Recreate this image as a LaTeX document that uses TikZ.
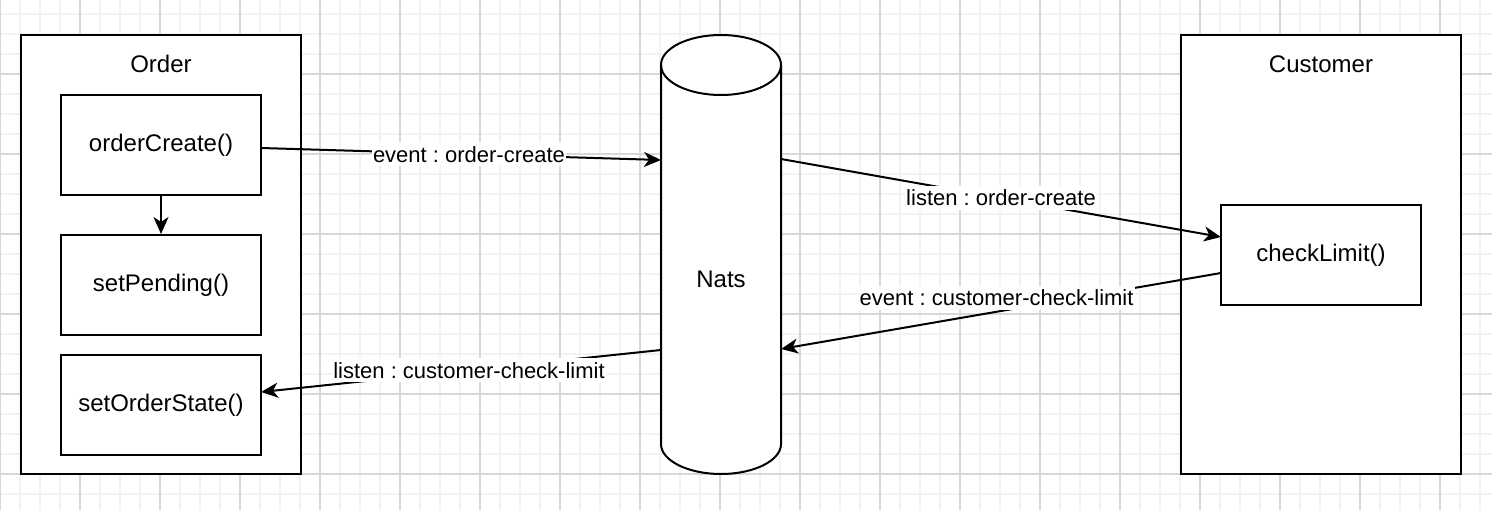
\documentclass[tikz,border=0pt]{standalone}
\usepackage{fontspec}
\setmainfont{Liberation Sans}
\usetikzlibrary{arrows.meta,calc}
\frenchspacing
\begin{document}
\begin{tikzpicture}[x=1pt,y=-1pt,
  box/.style={draw=black,line width=2pt,fill=white,minimum width=200pt,minimum height=100pt,inner sep=0pt,font=\fontsize{24}{29}\selectfont},
  frame/.style={draw=black,line width=2pt,fill=white,minimum width=280pt,minimum height=439pt,inner sep=0pt},
  title/.style={inner sep=0pt,font=\fontsize{24}{29}\selectfont},
  conn/.style={line width=2pt,-{Stealth[length=17pt,width=15pt,inset=5pt]}},
  lbl/.style={fill=white,inner xsep=1pt,inner ysep=4pt,font=\fontsize{22}{26}\selectfont\frenchspacing},
  minorgrid/.style={line width=1.5pt,draw={rgb,255:red,242;green,242;blue,242}},
  majorgrid/.style={line width=1.5pt,draw={rgb,255:red,216;green,216;blue,216}}]
\useasboundingbox (0,0) rectangle (1492,510);
\fill[white] (0,0) rectangle (1492,510);
% grid
\foreach \x in {0,20,...,1480} {\draw[minorgrid] (\x,0) -- (\x,510);}
\foreach \y in {14,34,...,510} {\draw[minorgrid] (0,\y) -- (1492,\y);}
\foreach \x in {0,80,...,1480} {\draw[majorgrid] (\x,0) -- (\x,510);}
\foreach \y in {74,154,...,510} {\draw[majorgrid] (0,\y) -- (1492,\y);}
% frames
\node[frame] (order) at (161,254.5) {};
\node[frame] (customer) at (1321,254.5) {};
\node[title] (ordert) at (161,64) {Order};
\node[title] (custt) at (1321,64) {Customer};
% inner boxes
\node[box] (oc) at (161,145) {orderCreate()};
\node[box] (sp) at (161,285) {setPending()};
\node[box] (so) at (161,405) {setOrderState()};
\node[box] (cl) at (1321,255) {checkLimit()};
% cylinder
\filldraw[fill=white,draw=black,line width=2pt]
  (661,65) -- (661,444) arc[start angle=180,end angle=360,x radius=60,y radius=-30] -- (781,65)
  arc[start angle=0,end angle=180,x radius=60,y radius=-30] -- cycle;
\draw[line width=2pt] (661,65) arc[start angle=180,end angle=360,x radius=60,y radius=-30];
\node[title] (nats) at (721,279) {Nats};
% endpoints
\coordinate (oce) at (261,148);
\coordinate (nin1) at (661,160);
\coordinate (nout1) at (781,159);
\coordinate (clin) at (1221,237);
\coordinate (clout) at (1221,273);
\coordinate (nin2) at (781,349);
\coordinate (nout2) at (661,350);
\coordinate (soe) at (261,392);
% connectors
\draw[conn] (oce) -- node[lbl,pos=0.52] {event : order-create} (nin1);
\draw[conn] (oc.south) -- (sp.north);
\draw[conn] (nout1) -- node[lbl,midway] {listen : order-create} (clin);
\draw[conn] (clout) -- node[lbl,pos=0.51,yshift=14pt] {event : customer-check-limit} (nin2);
\draw[conn] (nout2) -- node[lbl,pos=0.48] {listen : customer-check-limit} (soe);
\end{tikzpicture}
\end{document}
